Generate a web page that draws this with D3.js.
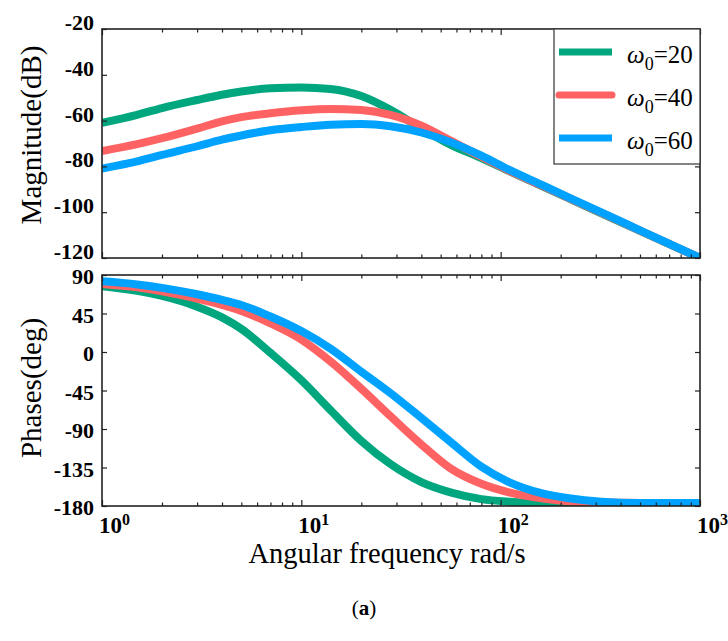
<!DOCTYPE html>
<html>
<head>
<meta charset="utf-8">
<script src="https://cdn.jsdelivr.net/npm/d3@7"></script>
<style>
  body { margin: 0; background: #fff; }
  svg { display: block; }
</style>
</head>
<body>
<svg id="chart" width="728" height="641" font-family="'Liberation Serif', 'Times New Roman', Times, 'DejaVu Serif', serif"></svg>
<script>
// ---- data ----
const freqs = [1, 1.5, 2, 3, 4, 5, 7, 10, 14, 20, 28, 40, 56, 80, 110, 160, 220, 320, 500, 1000];   // rad/s

const series_names = ["20", "40", "60"];      // omega_0
const series_colors = ["#00a67e", "#ff6262", "#00a2ff"];

// magnitude (dB)
const mag_w20 = [-61, -57.5, -54.5, -51, -48.7, -47.3, -45.9, -45.5, -46.2, -49.3, -55.3, -63.4, -70.5, -76.4, -82, -88.5, -94, -100.5, -108.2, -120];
const mag_w40 = [-73.3, -70.3, -67.7, -63.5, -60.3, -58.5, -56.8, -55.5, -54.9, -55.4, -57.5, -62.2, -68.7, -75.8, -81.8, -88.3, -93.8, -100.3, -108, -120];
const mag_w60 = [-80.9, -77.8, -75, -71.2, -68.3, -66.5, -64.2, -62.8, -61.8, -61.5, -62.5, -65.2, -69.4, -75.3, -81.4, -88, -93.6, -100.1, -107.9, -120];

// phase (deg)
const ph_w20 = [77, 71.5, 65.5, 53, 40.5, 27, -1, -33, -68, -104, -131, -152, -164, -172, -175, -176.5, -176.5, -176.5, -176.5, -176.5];
const ph_w40 = [79.5, 75.5, 71, 62.5, 55, 48, 33.5, 14.5, -11, -43, -75, -108, -136, -154, -164, -171, -174.5, -176, -176.5, -176.5];
const ph_w60 = [82.6, 79, 75, 67.5, 61, 55, 41.5, 24.5, 4, -23, -48, -77, -105, -134, -152, -165, -171, -175, -176.5, -176.5];

const mag_ticks = [-20, -40, -60, -80, -100, -120];
const ph_ticks = [90, 45, 0, -45, -90, -135, -180];
const decades = [1, 10, 100, 1000];

// ---- layout ----
const svg = d3.select("#chart");
const left = 102, right = 700;
const top_panel = { top: 29, bottom: 258 };
const bot_panel = { top: 275, bottom: 506 };

const x = d3.scaleLog().domain([1, 1000]).range([left, right]);
const y_mag = d3.scaleLinear().domain([-120, -20]).range([top_panel.bottom, top_panel.top]);
const y_ph = d3.scaleLinear().domain([-180, 90]).range([bot_panel.bottom, bot_panel.top]);

// minor ticks of the log axis
const minor = [];
decades.slice(0, 3).forEach(d => { for (let k = 2; k <= 9; k++) minor.push(d * k); });

function panel(p, yscale, yticks, series, clipId) {
    const g = svg.append("g");

    svg.append("clipPath").attr("id", clipId)
        .append("rect")
        .attr("x", left).attr("y", p.top)
        .attr("width", right - left).attr("height", p.bottom - p.top);

    // curves
    const line = d3.line()
        .x((d, i) => x(freqs[i]))
        .y(d => yscale(d))
        .curve(d3.curveMonotoneX);

    g.append("g").attr("clip-path", `url(#${clipId})`)
        .selectAll("path")
        .data(series)
        .join("path")
        .attr("d", d => line(d))
        .attr("fill", "none")
        .attr("stroke", (d, i) => series_colors[i])
        .attr("stroke-width", 8)
        .attr("stroke-linejoin", "round");

    // ticks (inward, on all four sides)
    const tick_axes = [
        [d3.axisBottom(x).tickValues(minor).tickSizeInner(-3.5), p.bottom, 0],
        [d3.axisBottom(x).tickValues(decades).tickSizeInner(-6), p.bottom, 0],
        [d3.axisTop(x).tickValues(minor).tickSizeInner(-3.5), p.top, 0],
        [d3.axisTop(x).tickValues(decades).tickSizeInner(-6), p.top, 0],
        [d3.axisLeft(yscale).tickValues(yticks).tickSizeInner(-5), 0, left],
        [d3.axisRight(yscale).tickValues(yticks).tickSizeInner(-5), 0, right]
    ];
    tick_axes.forEach(([ax, ty, tx]) => {
        const a = g.append("g")
            .attr("transform", `translate(${tx},${ty})`)
            .call(ax.tickSizeOuter(0).tickFormat(""));
        a.select(".domain").remove();
        a.selectAll("line").attr("stroke", "#222").attr("stroke-width", 1.2);
    });

    // frame
    g.append("rect")
        .attr("x", left).attr("y", p.top)
        .attr("width", right - left).attr("height", p.bottom - p.top)
        .attr("fill", "none").attr("stroke", "#222").attr("stroke-width", 1.6);

    return g;
}

panel(top_panel, y_mag, mag_ticks, [mag_w20, mag_w40, mag_w60], "clip-mag");
panel(bot_panel, y_ph, ph_ticks, [ph_w20, ph_w40, ph_w60], "clip-ph");

// y tick labels
svg.append("g").selectAll("text")
    .data(mag_ticks).join("text")
    .attr("x", 94).attr("y", d => y_mag(d) + 1)
    .attr("text-anchor", "end")
    .attr("font-size", 22).attr("font-weight", "bold")
    .text(d => d);

svg.append("g").selectAll("text")
    .data(ph_ticks).join("text")
    .attr("x", 94).attr("y", d => y_ph(d) + 9)
    .attr("text-anchor", "end")
    .attr("font-size", 22).attr("font-weight", "bold")
    .text(d => d);

// x tick labels 10^n
const xl = svg.append("g").selectAll("text")
    .data(decades).join("text")
    .attr("x", d => x(d) - 3).attr("y", 533)
    .attr("font-size", 23).attr("font-weight", "bold");
xl.append("tspan").text("10");
xl.append("tspan").attr("dy", -8).attr("font-size", 16).text(d => Math.round(Math.log10(d)));

// axis titles
svg.append("text")
    .attr("transform", `translate(41,135) rotate(-90)`)
    .attr("text-anchor", "middle").attr("font-size", 29)
    .text("Magnitude(dB)");

svg.append("text")
    .attr("transform", `translate(41,388) rotate(-90)`)
    .attr("text-anchor", "middle").attr("font-size", 29)
    .text("Phases(deg)");

svg.append("text")
    .attr("x", 387).attr("y", 563)
    .attr("text-anchor", "middle").attr("font-size", 28.5)
    .text("Angular frequency rad/s");

// legend
const lg = svg.append("g");
lg.append("rect")
    .attr("x", 554).attr("y", top_panel.top)
    .attr("width", right - 554).attr("height", 164 - top_panel.top)
    .attr("fill", "#fff").attr("stroke", "#333").attr("stroke-width", 1.2);

const rows = lg.selectAll("g.row")
    .data(series_names).join("g")
    .attr("class", "row")
    .attr("transform", (d, i) => `translate(0,${52 + i * 43})`);

rows.append("line")
    .attr("x1", 559).attr("x2", 612)
    .attr("stroke", (d, i) => series_colors[i])
    .attr("stroke-width", 7)
    .attr("stroke-linecap", (d, i) => i === 1 ? "round" : "butt");

const lt = rows.append("text")
    .attr("x", 627).attr("y", 11)
    .attr("font-size", 25);
lt.append("tspan").attr("font-style", "italic").text("ω");
lt.append("tspan").attr("dy", 7).attr("font-size", 18).text("0");
lt.append("tspan").attr("dy", -7).text(d => "=" + d);

// panel caption
const cap = svg.append("text")
    .attr("x", 364).attr("y", 615)
    .attr("text-anchor", "middle").attr("font-size", 21);
cap.append("tspan").text("(");
cap.append("tspan").attr("font-weight", "bold").text("a");
cap.append("tspan").text(")");
</script>
</body>
</html>
